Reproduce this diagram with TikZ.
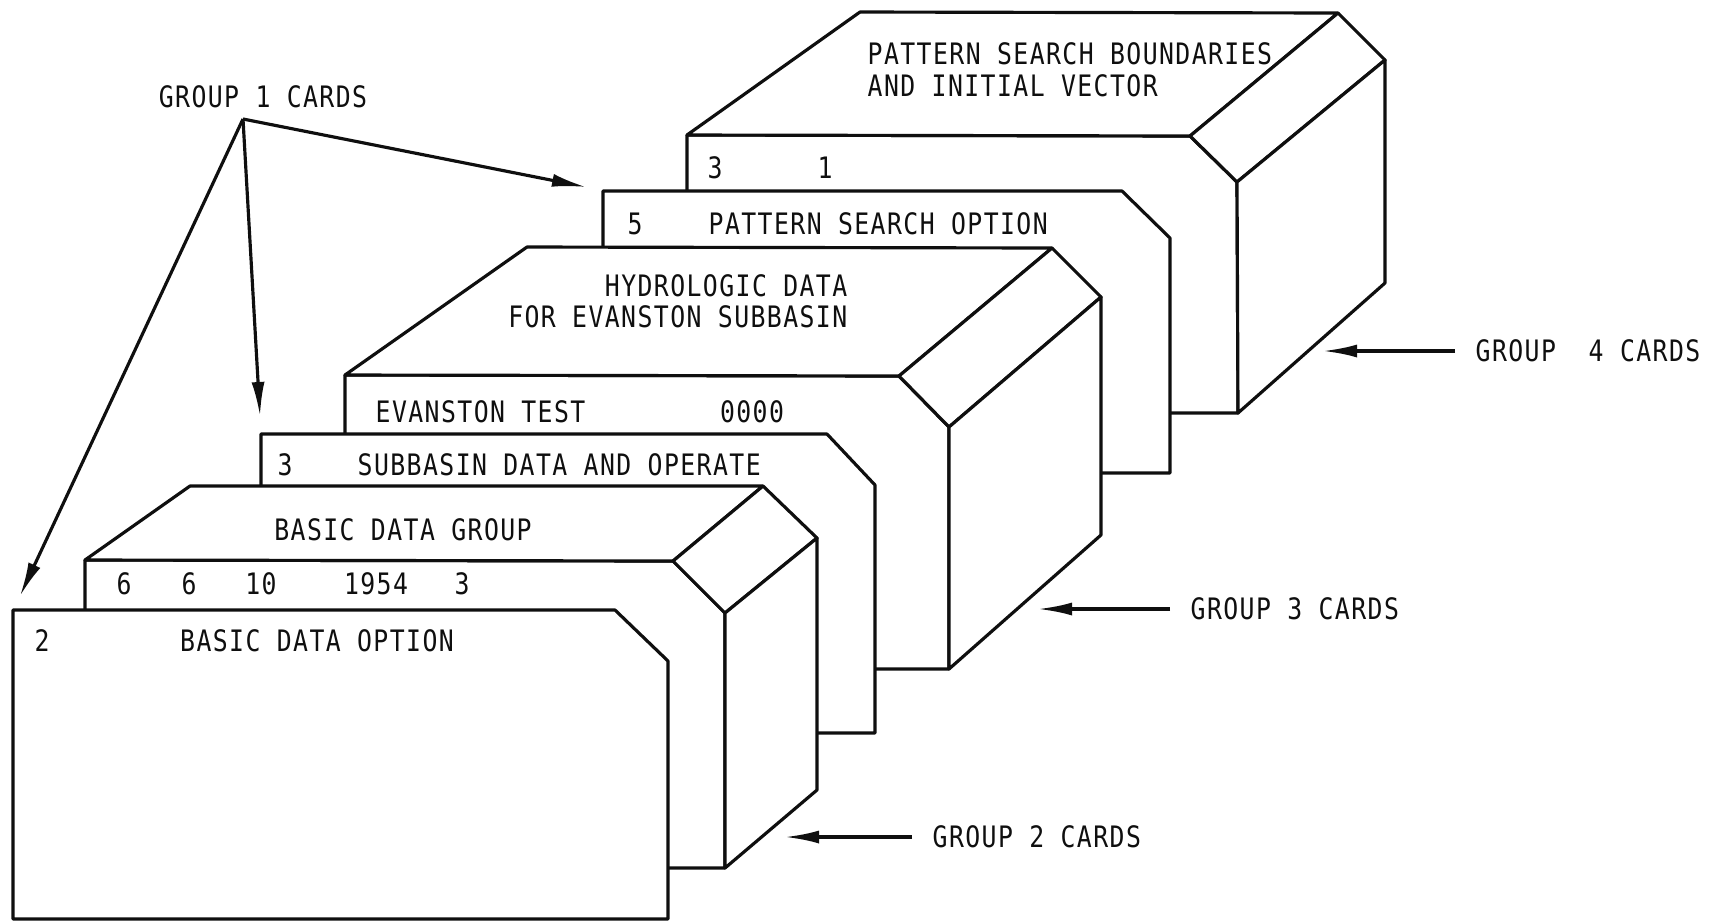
\documentclass[tikz,border=0pt]{standalone}
\usepackage{fontspec}
\newfontfamily\cardfont{DejaVu Sans Mono}[FakeStretch=0.84,LetterSpace=4.8]
\usepackage{tikz}
\usetikzlibrary{arrows.meta}
\definecolor{ink}{RGB}{15,15,15}
\tikzset{
  >={Latex[length=3.4mm,width=1.3mm]},
  face/.style={draw=ink,fill=white,line width=0.9pt,line join=round},
  txt/.style={font=\cardfont\fontsize{8.4}{9}\selectfont,text=ink,inner sep=0pt},
  flow/.style={->,draw=ink,line width=0.9pt},
  tag/.style={txt,anchor=west,inner xsep=2mm},
}

\begin{document}
\begin{tikzpicture}[x=0.1mm,y=-0.1mm]
  \useasboundingbox (0,0) rectangle (1716,922);

  % group 4 deck (back)
  \draw[face] (687,135) -- (1190,136) -- (1237,182) -- (1238,413) -- (687,413) -- cycle;
  \draw[face] (687,135) -- (860,12) -- (1338,13) -- (1190,136) -- cycle;
  \draw[face] (1190,136) -- (1338,13) -- (1385,60) -- (1237,182) -- cycle;
  \draw[face] (1237,182) -- (1385,60) -- (1385,283) -- (1238,413) -- cycle;
  \node[txt,anchor=west] (bnd1) at (867,54) {PATTERN SEARCH BOUNDARIES};
  \node[txt,anchor=west] (bnd2) at (867,86) {AND INITIAL VECTOR};
  \node[txt] (vec3) at (715,168) {3};
  \node[txt] (vec1) at (825,168) {1};

  % pattern search option card
  \draw[face] (603,191) -- (1122,191) -- (1170,238) -- (1170,473) -- (603,473) -- cycle;
  \node[txt] (ps5) at (635,224) {5};
  \node[txt,anchor=west] (psopt) at (708,224) {PATTERN SEARCH OPTION};

  % group 3 deck
  \draw[face] (345,375) -- (899,376) -- (949,427) -- (949,669) -- (345,669) -- cycle;
  \draw[face] (345,375) -- (527,247) -- (1052,248) -- (899,376) -- cycle;
  \draw[face] (899,376) -- (1052,248) -- (1101,297) -- (949,427) -- cycle;
  \draw[face] (949,427) -- (1101,297) -- (1101,535) -- (949,669) -- cycle;
  \node[txt,anchor=east] (hyd1) at (848,286) {HYDROLOGIC DATA};
  \node[txt,anchor=east] (hyd2) at (848,317) {FOR EVANSTON SUBBASIN};
  \node[txt,anchor=west] (evt) at (375,412) {EVANSTON TEST};
  \node[txt] (zeros) at (752,412) {0000};

  % subbasin card
  \draw[face] (261,434) -- (827,434) -- (875,485) -- (875,733) -- (261,733) -- cycle;
  \node[txt] (sb3) at (285,465) {3};
  \node[txt,anchor=west] (sbop) at (357,465) {SUBBASIN DATA AND OPERATE};

  % group 2 deck
  \draw[face] (85,560) -- (673,561) -- (725,613) -- (725,868) -- (85,868) -- cycle;
  \draw[face] (85,560) -- (190,486) -- (763,486) -- (673,561) -- cycle;
  \draw[face] (673,561) -- (763,486) -- (817,538) -- (725,613) -- cycle;
  \draw[face] (725,613) -- (817,538) -- (817,790) -- (725,868) -- cycle;
  \node[txt] (bdg) at (403,530) {BASIC DATA GROUP};
  \node[txt] (n1) at (124,584) {6};
  \node[txt] (n2) at (189,584) {6};
  \node[txt] (n3) at (261,584) {10};
  \node[txt] (n4) at (376,584) {1954};
  \node[txt] (n5) at (462,584) {3};

  % front card
  \draw[face] (13,610) -- (615,610) -- (668,661) -- (668,919) -- (13,919) -- cycle;
  \node[txt] (bo2) at (42,641) {2};
  \node[txt] (bdo) at (317,641) {BASIC DATA OPTION};

  % labels and arrows
  \node[txt] (g1) at (263,97) {GROUP 1 CARDS};
  \coordinate (g1apex) at (243,119);
  \coordinate (t1) at (20,596);
  \coordinate (t2) at (260,416);
  \coordinate (t3) at (586,187);
  \draw[flow] (g1apex) -- (t1);
  \draw[flow] (g1apex) -- (t2);
  \draw[flow] (g1apex) -- (t3);

  \node[tag] (g2) at (912,837) {GROUP 2 CARDS};
  \coordinate (g2tip) at (785,837);
  \draw[flow] (g2.west) -- (g2tip);

  \node[tag] (g3) at (1170,609) {GROUP 3 CARDS};
  \coordinate (g3tip) at (1038,609);
  \draw[flow] (g3.west) -- (g3tip);

  \node[tag] (g4) at (1455,351) {GROUP\ \ 4 CARDS};
  \coordinate (g4tip) at (1323,351);
  \draw[flow] (g4.west) -- (g4tip);
\end{tikzpicture}
\end{document}
